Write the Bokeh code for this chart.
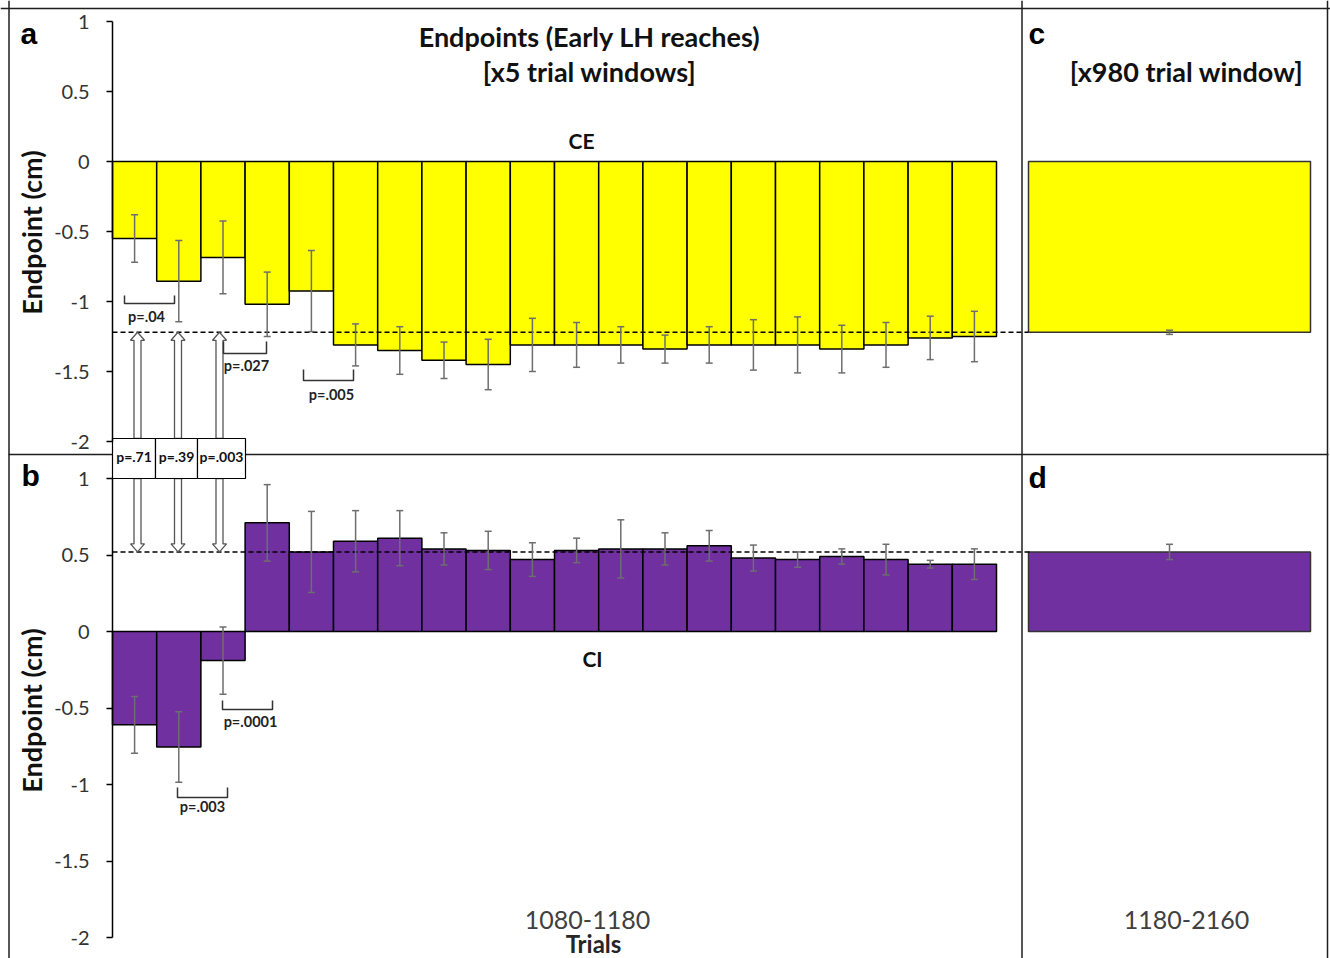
import numpy as np
from bokeh.plotting import figure
from bokeh.models import (Range1d, LinearAxis, FixedTicker, CustomJSTickFormatter,
                          ColumnDataSource, Whisker, TeeHead, Span)
from bokeh.core.properties import value
from bokeh.embed import file_html
from bokeh.resources import INLINE

# ---------------- data ----------------
window_index = list(range(1, 21))          # 20 consecutive x5-trial windows
ce_short = [-0.55, -0.855, -0.685, -1.02, -0.925, -1.31, -1.35, -1.42, -1.45, -1.31,
            -1.31, -1.31, -1.34, -1.31, -1.31, -1.31, -1.34, -1.31, -1.26, -1.25]
ce_short_err = [0.17, 0.29, 0.26, 0.23, 0.29, 0.15, 0.17, 0.13, 0.18, 0.19,
                0.16, 0.13, 0.10, 0.13, 0.18, 0.20, 0.17, 0.16, 0.155, 0.18]
ci_short = [-0.61, -0.755, -0.19, 0.71, 0.52, 0.59, 0.61, 0.54, 0.53, 0.47,
            0.53, 0.54, 0.54, 0.56, 0.48, 0.47, 0.49, 0.47, 0.44, 0.44]
ci_short_err = [0.185, 0.23, 0.22, 0.25, 0.265, 0.20, 0.18, 0.105, 0.125, 0.11,
                0.08, 0.19, 0.105, 0.10, 0.085, 0.05, 0.05, 0.10, 0.025, 0.10]
ce_long = [-1.22]
ce_long_err = [0.015]
ci_long = [0.52]
ci_long_err = [0.05]
y_ticks = [-2, -1.5, -1, -0.5, 0, 0.5, 1]
cat_short = "1080-1180"
cat_long = "1180-2160"
box_p = ["p=.71", "p=.39", "p=.003"]
ce_pair_p = ["p=.04", "p=.027", "p=.005"]
ci_pair_p = ["p=.003", "p=.0001"]

# ---------------- layout constants (pixels, window coordinates) ----------------
W, H = 1330, 958
X0, BW = 112.0, 44.2           # first bar left edge, px per window
YA0, SA = 161.0, 140.0         # panel a zero, px per cm
YB0, SB = 631.0, 153.0         # panel b zero, px per cm
CD_L, CD_W = 1028.0, 282.0     # right panels bar

def fx(wx):
    return (wx - X0) / BW

def fya(wy):
    return (YA0 - wy) / SA

def fyb(wy):
    return (YB0 - wy) / SB

p = figure(width=W, height=H,
           x_range=Range1d(-X0 / BW, (W - X0) / BW),
           y_range=Range1d((YA0 - H) / SA, YA0 / SA),
           x_axis_type=None, y_axis_type=None,
           toolbar_location=None, output_backend="svg",
           min_border=0, outline_line_color=None,
           background_fill_color="white", border_fill_color="white")
p.extra_y_ranges = {"b": Range1d((YB0 - H) / SB, YB0 / SB)}
p.extra_x_ranges = {"cd": Range1d(-CD_L / CD_W, (W - CD_L) / CD_W)}

LINE = "#1e1e1e"
YELLOW = "#FFFF00"
PURPLE = "#7030A0"
ERR = "#6e6e6e"

# frame / dividers
p.segment(x0=[fx(8)], x1=[fx(1328)], y0=[fya(454)], y1=[fya(454)],
          line_color=LINE, line_width=1.5)
for wx in [8.5, 1021.5, 1327]:
    p.add_layout(Span(location=fx(wx), dimension="height", line_color=LINE, line_width=1.5))
p.add_layout(Span(location=fya(8), dimension="width", line_color=LINE, line_width=1.5))

xs = np.arange(len(window_index)) + 0.5
ce = np.array(ce_short); cee = np.array(ce_short_err)
ci = np.array(ci_short); cie = np.array(ci_short_err)

# bars
p.vbar(x=xs, top=0, bottom=ce, width=1, fill_color=YELLOW, line_color="black", line_width=1.5)
p.vbar(x=xs, top=ci, bottom=0, width=1, fill_color=PURPLE, line_color="black", line_width=1.5,
       y_range_name="b")
p.vbar(x=[0.5], top=[0], bottom=ce_long, width=1, fill_color=YELLOW, line_color="#333",
       line_width=1.5, x_range_name="cd")
p.vbar(x=[0.5], top=ci_long, bottom=[0], width=1, fill_color=PURPLE, line_color="#333",
       line_width=1.5, x_range_name="cd", y_range_name="b")

# dashed reference lines at the long-window levels
cd_left_main = (CD_L - X0) / BW
p.segment(x0=[0], x1=[cd_left_main], y0=ce_long, y1=ce_long, line_color="black",
          line_width=1.6, line_dash="5 3")
p.segment(x0=[0], x1=[cd_left_main + 3 / BW], y0=ci_long, y1=ci_long, line_color="black",
          line_width=1.6, line_dash="5 3", y_range_name="b")

# error bars
def whisk(x, lo, hi, **kw):
    src = ColumnDataSource(dict(x=list(x), lo=list(lo), hi=list(hi)))
    w = Whisker(source=src, base="x", lower="lo", upper="hi", dimension="height",
                line_color=ERR, line_width=1.5, level="annotation",
                lower_head=TeeHead(size=7, line_color=ERR, line_width=1.5),
                upper_head=TeeHead(size=7, line_color=ERR, line_width=1.5), **kw)
    p.add_layout(w)

whisk(xs, ce - cee, ce + cee)
whisk(xs, ci - cie, ci + cie, y_range_name="b")
whisk([0.5], [ce_long[0] - ce_long_err[0]], [ce_long[0] + ce_long_err[0]], x_range_name="cd")
whisk([0.5], [ci_long[0] - ci_long_err[0]], [ci_long[0] + ci_long_err[0]], x_range_name="cd",
      y_range_name="b")

# hollow arrows from the p boxes to the reference lines
arrow_cx = [137, 177.5, 219]
ux, uy, dx, dy = [], [], [], []
hw, hh = 3.5 / BW, 7.0 / BW
for cx in arrow_cx:
    c = fx(cx)
    tip = ce_long[0]; base = tip - 8 / SA; bot = fya(438)
    ux.append([c, c + hh, c + hw, c + hw, c - hw, c - hw, c - hh])
    uy.append([tip, base, base, bot, bot, base, base])
    tip = ci_long[0]; base = tip + 8 / SB; top = fyb(478)
    dx.append([c, c + hh, c + hw, c + hw, c - hw, c - hw, c - hh])
    dy.append([tip, base, base, top, top, base, base])
p.patches(ux, uy, fill_color="white", line_color="#555", line_width=1.3)
p.patches(dx, dy, fill_color="white", line_color="#555", line_width=1.3, y_range_name="b")

# p-value boxes across the divider
p.quad(left=[fx(112), fx(155), fx(197)], right=[fx(155), fx(197), fx(245)],
       top=fya(438), bottom=fya(478), fill_color="white", line_color="black", line_width=1.2)

def txt(x, y, s, size, bold=False, font="Lato", color="#111", align="center",
        baseline="middle", angle=0.0):
    p.text(x=[x], y=[y], text=[s], text_font=value(font), text_font_size=size,
           text_font_style="bold" if bold else "normal", text_color=color,
           text_align=align, text_baseline=baseline, angle=angle)

for cx, s in zip([133.5, 176, 221], box_p):
    txt(fx(cx), fya(456), s, "14px", bold=True)

# brackets
brackets = [(124, 174, 295, 303), (223, 266, 341, 353), (303, 353, 369, 380),
            (177, 227, 787, 797), (222, 272, 700, 709)]
bx = [[fx(a), fx(a), fx(b), fx(b)] for a, b, t, u in brackets]
by = [[fya(t), fya(u), fya(u), fya(t)] for a, b, t, u in brackets]
p.multi_line(bx, by, line_color="#333", line_width=1.5)
for (cx, wy), s in zip([(146, 316), (246, 364.5), (331, 393.5)], ce_pair_p):
    txt(fx(cx), fya(wy), s, "14.5px", bold=True, color="#222")
for (cx, wy), s in zip([(202, 805.5), (250, 720.5)], ci_pair_p):
    txt(fx(cx), fya(wy), s, "14.5px", bold=True, color="#222")

# y axes
fmt = CustomJSTickFormatter(code="return String(tick);")
for rn in ["default", "b"]:
    ax = LinearAxis(y_range_name=rn, fixed_location=0, bounds=(-2, 1),
                    ticker=FixedTicker(ticks=y_ticks), formatter=fmt,
                    axis_line_color="black", axis_line_width=1.5,
                    major_tick_line_color="black", major_tick_line_width=1.5,
                    major_tick_in=0, major_tick_out=6, minor_tick_line_color=None,
                    major_label_text_font="Lato", major_label_text_font_size="20px",
                    major_label_text_color="#333", major_label_standoff=17)
    p.add_layout(ax, "left")

# titles and labels
txt(fx(589), fya(36), "Endpoints (Early LH reaches)", "27px", bold=True)
txt(fx(589), fya(71), "[x5 trial windows]", "27px", bold=True)
txt(fx(1186), fya(71), "[x980 trial window]", "27px", bold=True)
txt(fx(581), fya(139.5), "CE", "21px", bold=True)
txt(fx(592), fya(657.5), "CI", "21px", bold=True)
for (lx, ly), s in zip([(20, 32.5), (21, 474.5), (1028, 32.5), (1028, 476.5)],
                       ["a", "b", "c", "d"]):
    txt(fx(lx), fya(ly), s, "30px", bold=True, font="Liberation Sans", color="black",
        align="left")
for cy in [232, 710]:
    txt(fx(31), fya(cy), "Endpoint (cm)", "27px", bold=True, angle=np.pi / 2)
txt(fx(587), fya(919), cat_short, "25px", color="#404040")
txt(fx(1186), fya(919), cat_long, "25px", color="#404040")
txt(fx(593), fya(943), "Trials", "24px", bold=True, color="#262626")

open("out.html", "w").write(file_html(p, INLINE))
